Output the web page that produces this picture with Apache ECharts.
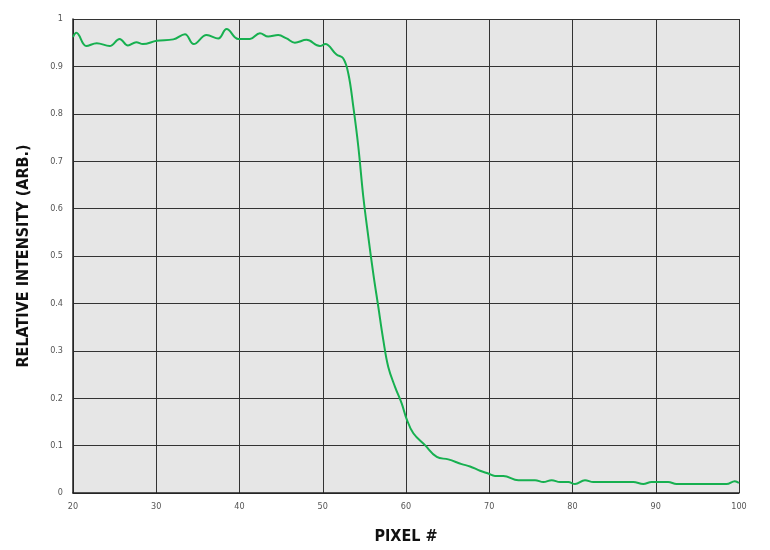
<!DOCTYPE html>
<html>
<head>
<meta charset="utf-8">
<script src="https://cdn.jsdelivr.net/npm/echarts@6/dist/echarts.min.js"></script>
<style>
html,body{margin:0;padding:0;background:#fff;}
#chart{width:770px;height:550px;}
</style>
</head>
<body>
<div id="chart"></div>
<script>
var pixels = [20, 20.4, 21.6, 22.85, 24.4, 25.6, 26.6, 27.6, 28.4, 30.05, 32.05, 33.45, 34.5, 36.05, 37.45, 38.45, 39.85, 41.25, 42.45, 43.45, 44.65, 45.65, 46.65, 48.05, 49.65, 50.3, 51.65, 52.45, 53.07, 53.67, 54.27, 54.87, 55.47, 56.07, 56.67, 57.27, 57.87, 58.68, 59.48, 60.08, 60.88, 62.28, 63.7, 65.08, 66.69, 67.69, 68.89, 69.89, 70.69, 71.69, 73.5, 75.5, 76.5, 77.5, 78.5, 79.5, 80.3, 81.5, 82.5, 87.3, 88.5, 89.5, 91.5, 92.5, 98.5, 99.5, 100];
var intensity = [0.962, 0.971, 0.943, 0.949, 0.943, 0.958, 0.944, 0.951, 0.947, 0.954, 0.957, 0.968, 0.947, 0.966, 0.959, 0.979, 0.958, 0.958, 0.970, 0.963, 0.966, 0.959, 0.950, 0.956, 0.943, 0.947, 0.925, 0.917, 0.885, 0.815, 0.731, 0.625, 0.541, 0.463, 0.393, 0.323, 0.266, 0.224, 0.189, 0.156, 0.126, 0.101, 0.076, 0.071, 0.061, 0.056, 0.047, 0.041, 0.036, 0.036, 0.027, 0.027, 0.023, 0.027, 0.023, 0.023, 0.019, 0.027, 0.023, 0.023, 0.019, 0.023, 0.023, 0.019, 0.019, 0.025, 0.021];
var xTicks = [20, 30, 40, 50, 60, 70, 80, 90, 100];
var yTicks = [0, 0.1, 0.2, 0.3, 0.4, 0.5, 0.6, 0.7, 0.8, 0.9, 1];
var xTitle = 'PIXEL #';
var yTitle = 'RELATIVE INTENSITY (ARB.)';

var font = "'Liberation Sans Narrow', 'DejaVu Sans Condensed', 'Noto Sans', sans-serif";
var data = pixels.map(function (p, i) { return [p, intensity[i]]; });

var chart = echarts.init(document.getElementById('chart'), null, {renderer: 'canvas'});
chart.setOption({
  backgroundColor: '#ffffff',
  animation: false,
  grid: {left: 73, right: 31, top: 19, bottom: 57, show: true, backgroundColor: '#e6e6e6', borderWidth: 0},
  xAxis: {
    type: 'value', min: 20, max: 100, interval: 10,
    name: xTitle, nameLocation: 'middle', nameGap: 36,
    nameTextStyle: {fontFamily: font, fontSize: 16, fontWeight: 'bold', color: '#111'},
    axisLine: {show: true, lineStyle: {color: '#222', width: 1.5}},
    axisTick: {show: false},
    axisLabel: {fontFamily: font, fontSize: 9, color: '#555', margin: 9,
      formatter: function (v) { return xTicks.indexOf(v) >= 0 ? String(v) : ''; }},
    splitLine: {show: true, lineStyle: {color: '#333', width: 1}}
  },
  yAxis: {
    type: 'value', min: 0, max: 1, interval: 0.1,
    name: yTitle, nameLocation: 'middle', nameGap: 41,
    nameTextStyle: {fontFamily: font, fontSize: 16, fontWeight: 'bold', color: '#111'},
    axisLine: {show: true, lineStyle: {color: '#222', width: 1.5}},
    axisTick: {show: false},
    axisLabel: {fontFamily: font, fontSize: 9, color: '#555', margin: 10,
      formatter: function (v) {
        var r = Math.round(v * 10) / 10;
        return yTicks.indexOf(r) >= 0 ? String(r) : '';
      }},
    splitLine: {show: true, lineStyle: {color: '#333', width: 1}}
  },
  series: [{
    type: 'line', data: data, smooth: 0.4, showSymbol: false,
    lineStyle: {color: '#17b050', width: 2}
  }]
});
</script>
</body>
</html>
